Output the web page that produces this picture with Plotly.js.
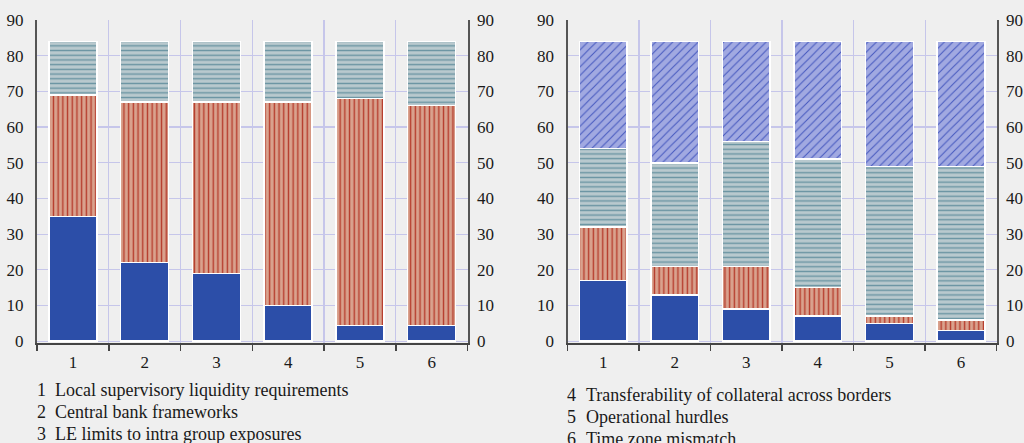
<!DOCTYPE html>
<html><head><meta charset="utf-8">
<script src="https://cdn.plot.ly/plotly-3.0.1.min.js"></script>
<style>html,body{margin:0;padding:0;background:#efefef;}#chart{width:1024px;height:443px;}</style>
</head><body><div id="chart"></div>
<script>
// ---- data ----
const categories = ['1','2','3','4','5','6'];
const leftBlue  = [35, 22, 19, 10, 4.4, 4.4];
const leftRed   = [34, 45, 48, 57, 63.6, 61.6];
const leftTeal  = [15, 17, 17, 17, 16, 18];
const rightBlue   = [17, 13, 9, 7, 5, 3];
const rightRed    = [15, 8, 12, 8, 2, 3];
const rightTeal   = [22, 29, 35, 36, 42, 43];
const rightPurple = [30, 34, 28, 33, 35, 35];
const yTicks = [0,10,20,30,40,50,60,70,80,90];
const leftNotes  = [['1','Local supervisory liquidity requirements'],['2','Central bank frameworks'],['3','LE limits to intra group exposures']];
const rightNotes = [['4','Transferability of collateral across borders'],['5','Operational hurdles'],['6','Time zone mismatch']];

// ---- styles ----
const W = 1024, H = 443;
const px = x => x / W, py = y => (H - y) / H;
const serif = '"Liberation Serif", "Times New Roman", serif';
const txt = '#1a1a1a';
const grid = '#c6c6ea';
const outline = {color:'#ffffff', width:1.5};
const sBlue   = {color:'#2c4ea8', line:outline};
const sRed    = {color:'#d9a28e', line:outline, pattern:{shape:'|', fgcolor:'#b63c2c', bgcolor:'#d9a28e', size:4.7, solidity:0.3}};
const sTeal   = {color:'#b9c9ce', line:outline, pattern:{shape:'-', fgcolor:'#6a94a2', bgcolor:'#b9c9ce', size:4.7, solidity:0.3}};
const sPurple = {color:'#a1a9e1', line:outline, pattern:{shape:'/', fgcolor:'#4558bf', bgcolor:'#a1a9e1', size:6, solidity:0.17}};

function bar(y, marker, xa, ya){ return {type:'bar', x:categories, y:y, marker:marker, xaxis:xa, yaxis:ya, showlegend:false, hoverinfo:'y'}; }

const data = [
  bar(leftBlue, sBlue, 'x', 'y'),
  bar(leftRed, sRed, 'x', 'y'),
  bar(leftTeal, sTeal, 'x', 'y'),
  bar(rightBlue, sBlue, 'x2', 'y2'),
  bar(rightRed, sRed, 'x2', 'y2'),
  bar(rightTeal, sTeal, 'x2', 'y2'),
  bar(rightPurple, sPurple, 'x2', 'y2'),
];

const yDomain = [py(343), py(20)];
const tickFont = {family:serif, size:17, color:txt};
const noteFont = {family:serif, size:18, color:txt};
function xAxis(domain, anchor){
  return {domain:domain, anchor:anchor, type:'category', tickson:'boundaries', ticks:'outside', ticklen:6, tickwidth:1.5, tickcolor:'#444',
    showline:true, linecolor:'#444', linewidth:1.5, showgrid:true, gridcolor:grid, gridwidth:1.2, tickfont:tickFont, ticklabelstandoff:3, zeroline:false, fixedrange:true};
}
function yAxis(anchor, side, overlay, showgrid, standoff){
  const a = {domain:yDomain, anchor:anchor, side:side, range:[-0.5,90], tickvals:yTicks, ticktext:yTicks.map(String), showgrid:showgrid, gridcolor:grid, gridwidth:1.2,
    showline:true, linecolor:'#555', linewidth:2, ticks:'', ticklabelstandoff:standoff, tickfont:tickFont, zeroline:false, fixedrange:true};
  if (overlay) a.overlaying = overlay;
  return a;
}

const annotations = [];
leftNotes.forEach((n,i)=>{
  const y = py(390 + i*22);
  annotations.push({xref:'paper', yref:'paper', x:px(35), y:y, xanchor:'left', yanchor:'middle', text:n[0], showarrow:false, font:noteFont});
  annotations.push({xref:'paper', yref:'paper', x:px(53), y:y, xanchor:'left', yanchor:'middle', text:n[1], showarrow:false, font:noteFont});
});
rightNotes.forEach((n,i)=>{
  const y = py(395 + i*22);
  annotations.push({xref:'paper', yref:'paper', x:px(565), y:y, xanchor:'left', yanchor:'middle', text:n[0], showarrow:false, font:noteFont});
  annotations.push({xref:'paper', yref:'paper', x:px(583.5), y:y, xanchor:'left', yanchor:'middle', text:n[1], showarrow:false, font:noteFont});
});

const layout = {
  width:W, height:H, margin:{l:0,r:0,t:0,b:0},
  paper_bgcolor:'#efefef', plot_bgcolor:'#efefef',
  barmode:'stack', bargap:0.333,
  showlegend:false,
  xaxis: xAxis([px(37), px(467.5)], 'y'),
  yaxis: yAxis('x', 'left', null, true, 8),
  yaxis3: yAxis('x', 'right', 'y', false, 4),
  xaxis2: xAxis([px(567.5), px(996.7)], 'y2'),
  yaxis2: yAxis('x2', 'left', null, true, 8),
  yaxis4: yAxis('x2', 'right', 'y2', false, 4),
  annotations: annotations
};
// invisible helper traces so the right-hand overlay axes render
data.push({type:'scatter', x:[categories[0]], y:[0], xaxis:'x', yaxis:'y3', mode:'markers', marker:{opacity:0}, showlegend:false, hoverinfo:'skip'});
data.push({type:'scatter', x:[categories[0]], y:[0], xaxis:'x2', yaxis:'y4', mode:'markers', marker:{opacity:0}, showlegend:false, hoverinfo:'skip'});

Plotly.newPlot('chart', data, layout, {displayModeBar:false, staticPlot:true});
</script></body></html>
